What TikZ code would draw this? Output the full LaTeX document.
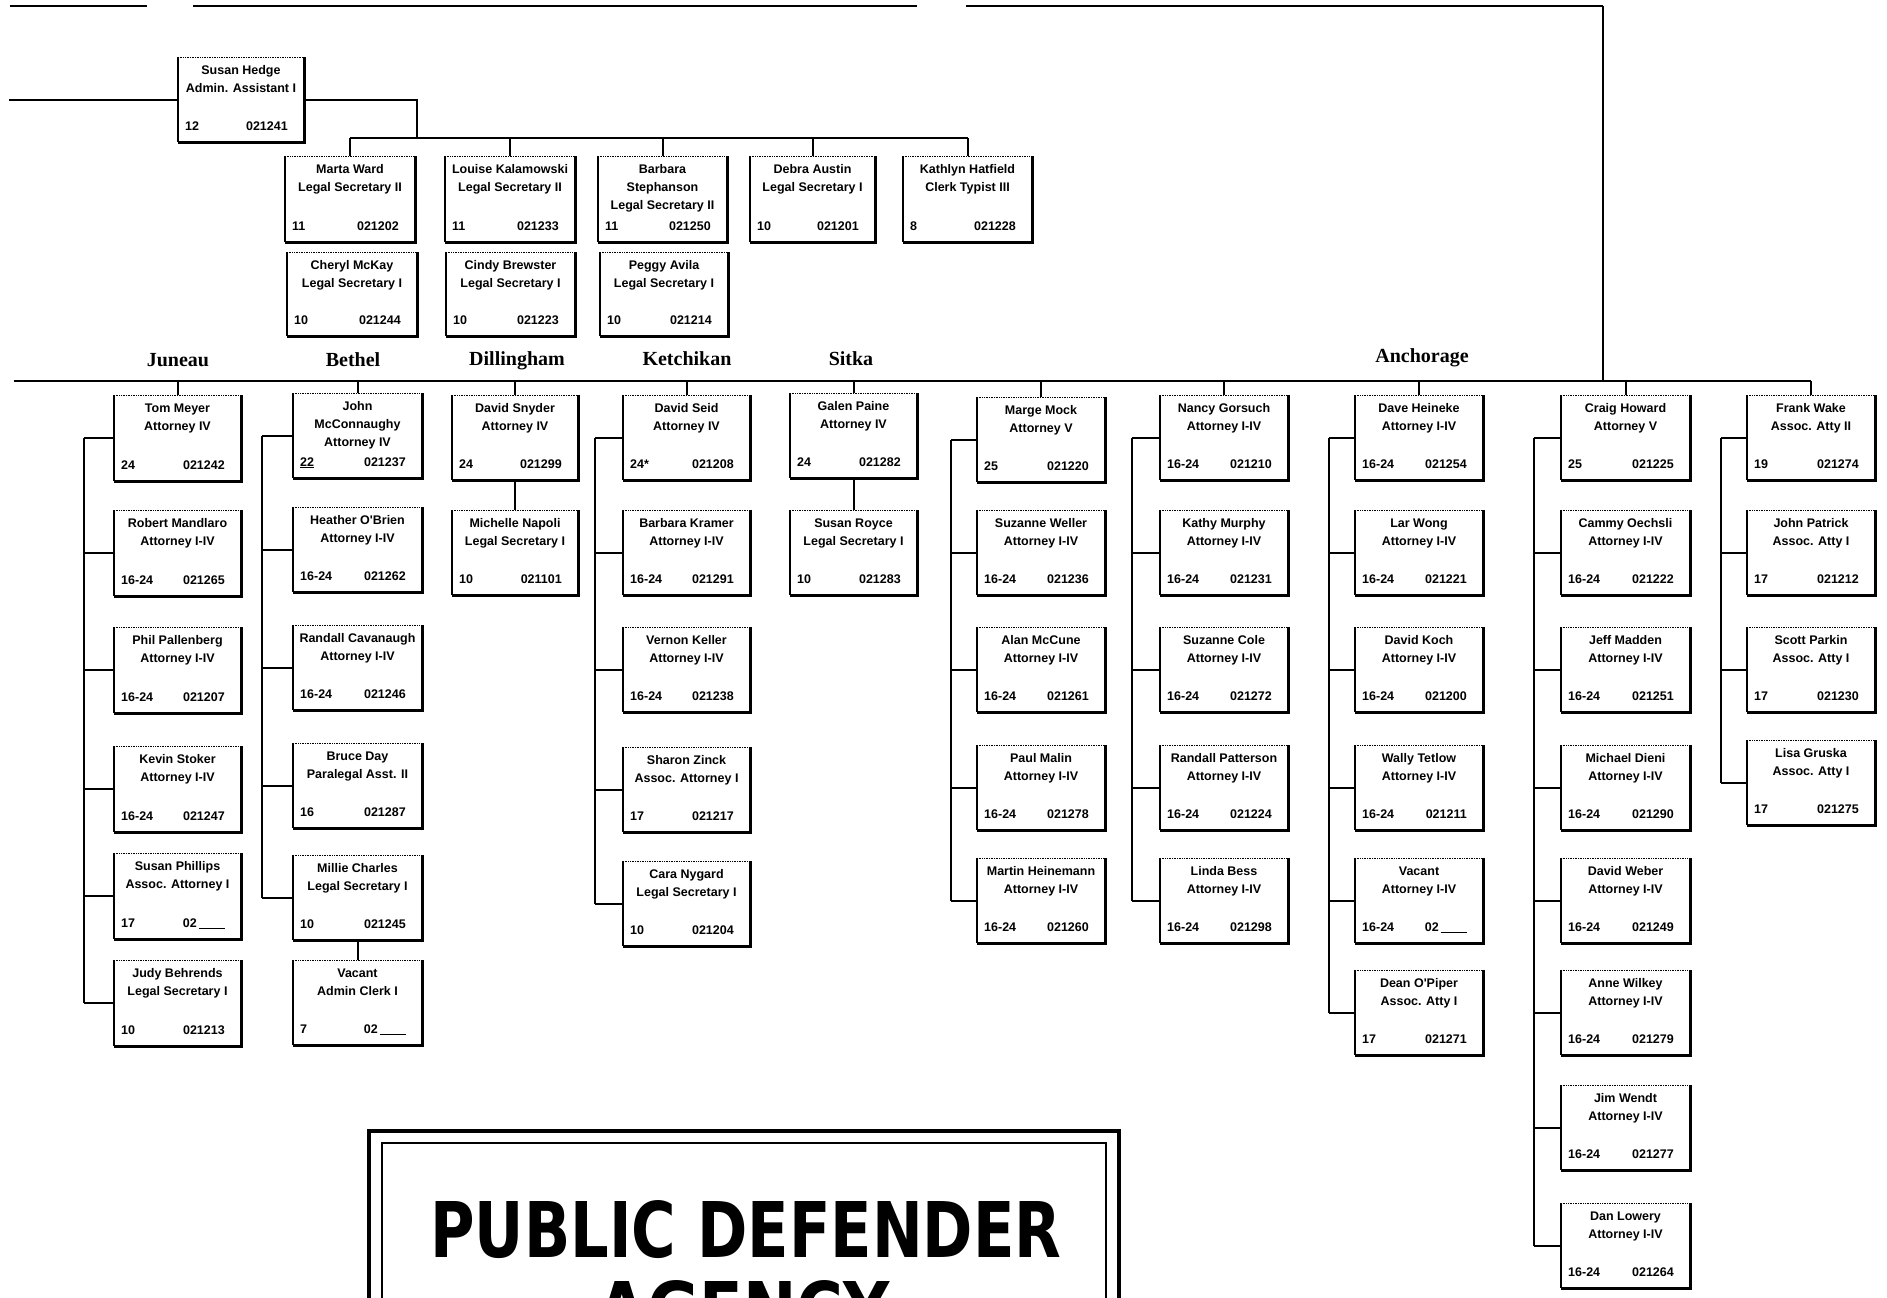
\documentclass[tikz,border=0pt]{standalone}
\usepackage{fontspec}
\usepackage{graphicx}
\newfontfamily\cellfam{Liberation Sans}
\newfontfamily\locfam{Liberation Serif}
\newfontfamily\titlefam{DejaVu Sans}
\newcommand{\cellfont}{\cellfam\bfseries\fontsize{12.5}{18}\selectfont}
\newcommand{\locfont}{\locfam\bfseries\fontsize{20}{22}\selectfont}
\newcommand{\blankcode}{02\,\rule[-1.5pt]{26pt}{0.9pt}}
\tikzset{
  cell/.style={inner sep=0pt, outer sep=0pt},
  topedge/.style={line width=0.7pt, densely dotted},
  leftedge/.style={line width=1.3pt},
  heavyedge/.style={line width=3pt, line join=miter},
  celltext/.style={font=\cellfont, align=center, inner sep=0pt},
  cellnum/.style={font=\cellfont, inner sep=0pt},
  conn/.style={line width=2pt},
  bus/.style={line width=2.6pt},
  loclabel/.style={font=\locfont, inner sep=0pt},
  frameouter/.style={line width=4pt},
  frameinner/.style={line width=2.2pt}
}
% #1 name, #2 left x, #3 top y, #4 width, #5 height, #6 lines, #7 grade, #8 code
\newcommand{\orgbox}[8]{%
  \node[cell, minimum width=#4pt, minimum height=#5pt, anchor=north west] (#1) at (#2,#3) {};
  \draw[topedge] (#1.north west) -- (#1.north east);
  \draw[leftedge] (#1.north west) -- (#1.south west);
  \draw[heavyedge] (#1.north east) -- (#1.south east) -- (#1.south west);
  \node[celltext, anchor=north] at ([yshift=-8.5pt]#1.north) {#6};
  \node[cellnum, anchor=base west] at ([xshift=7pt,yshift=12pt]#1.south west) {#7};
  \node[cellnum, anchor=base east] at ([xshift=-16pt,yshift=12pt]#1.south east) {#8};
}
\begin{document}
\begin{tikzpicture}[x=1pt,y=-1pt]
\useasboundingbox (0,0) rectangle (1887,1298);
\clip (0,0) rectangle (1887,1298);
\fill[white] (0,0) rectangle (1887,1298);

% ---------- top lines ----------
\coordinate (ta1) at (10,6);  \coordinate (ta2) at (147,6);
\coordinate (tb1) at (193,6); \coordinate (tb2) at (917,6);
\coordinate (tc1) at (966,6); \coordinate (topR) at (1603,6);
\draw[bus] (ta1) -- (ta2);
\draw[bus] (tb1) -- (tb2);
\draw[bus] (tc1) -- (topR);

% ---------- admin + secretaries ----------
\orgbox{hedge}{178}{57}{126}{85}{Susan Hedge\\Admin. Assistant I}{12}{021241}
\orgbox{s1}{285}{156}{130}{86}{Marta Ward\\Legal Secretary II}{11}{021202}
\orgbox{s2}{445}{156}{130}{86}{Louise Kalamowski\\Legal Secretary II}{11}{021233}
\orgbox{s3}{598}{156}{129}{86}{Barbara\\Stephanson\\Legal Secretary II}{11}{021250}
\orgbox{s4}{750}{156}{125}{86}{Debra Austin\\Legal Secretary I}{10}{021201}
\orgbox{s5}{903}{156}{129}{86}{Kathlyn Hatfield\\Clerk Typist III}{8}{021228}
\orgbox{s6}{287}{252}{130}{84}{Cheryl McKay\\Legal Secretary I}{10}{021244}
\orgbox{s7}{446}{252}{129}{84}{Cindy Brewster\\Legal Secretary I}{10}{021223}
\orgbox{s8}{600}{252}{128}{84}{Peggy Avila\\Legal Secretary I}{10}{021214}

\coordinate (hl) at (10,101);
\draw[conn] (hl) -- (hedge.west -| hl) -- (hedge.west);
\coordinate (sj) at (417,138);
\draw[conn] (hedge.east) -| (sj);
\draw[conn] (s1.north |- sj) -- (s5.north |- sj);
\foreach \s in {s1,s2,s3,s4,s5} { \draw[conn] (\s.north) -- (\s.north |- sj); }

% ---------- main bus ----------
\coordinate (busL) at (14,381);

% ---------- Juneau ----------
\orgbox{j1}{114}{395}{127}{86}{Tom Meyer\\Attorney IV}{24}{021242}
\orgbox{j2}{114}{510}{127}{86}{Robert Mandlaro\\Attorney I-IV}{16-24}{021265}
\orgbox{j3}{114}{627}{127}{86}{Phil Pallenberg\\Attorney I-IV}{16-24}{021207}
\orgbox{j4}{114}{746}{127}{86}{Kevin Stoker\\Attorney I-IV}{16-24}{021247}
\orgbox{j5}{114}{853}{127}{86}{Susan Phillips\\Assoc. Attorney I}{17}{\blankcode}
\orgbox{j6}{114}{960}{127}{86}{Judy Behrends\\Legal Secretary I}{10}{021213}

% ---------- Bethel ----------
\orgbox{b1}{293}{393}{129}{85}{John\\McConnaughy\\Attorney IV}{\underline{22}}{021237}
\orgbox{b2}{293}{507}{129}{85}{Heather O'Brien\\Attorney I-IV}{16-24}{021262}
\orgbox{b3}{293}{625}{129}{85}{Randall Cavanaugh\\Attorney I-IV}{16-24}{021246}
\orgbox{b4}{293}{743}{129}{85}{Bruce Day\\Paralegal Asst. II}{16}{021287}
\orgbox{b5}{293}{855}{129}{85}{Millie Charles\\Legal Secretary I}{10}{021245}
\orgbox{b6}{293}{960}{129}{85}{Vacant\\Admin Clerk I}{7}{\blankcode}

% ---------- Dillingham ----------
\orgbox{d1}{452}{395}{126}{85}{David Snyder\\Attorney IV}{24}{021299}
\orgbox{d2}{452}{510}{126}{85}{Michelle Napoli\\Legal Secretary I}{10}{021101}

% ---------- Ketchikan ----------
\orgbox{k1}{623}{395}{127}{85}{David Seid\\Attorney IV}{24*}{021208}
\orgbox{k2}{623}{510}{127}{85}{Barbara Kramer\\Attorney I-IV}{16-24}{021291}
\orgbox{k3}{623}{627}{127}{85}{Vernon Keller\\Attorney I-IV}{16-24}{021238}
\orgbox{k4}{623}{747}{127}{85}{Sharon Zinck\\Assoc. Attorney I}{17}{021217}
\orgbox{k5}{623}{861}{127}{85}{Cara Nygard\\Legal Secretary I}{10}{021204}

% ---------- Sitka ----------
\orgbox{t1}{790}{393}{127}{85}{Galen Paine\\Attorney IV}{24}{021282}
\orgbox{t2}{790}{510}{127}{85}{Susan Royce\\Legal Secretary I}{10}{021283}

% ---------- Anchorage 1 ----------
\orgbox{a1}{977}{397}{128}{85}{Marge Mock\\Attorney V}{25}{021220}
\orgbox{a2}{977}{510}{128}{85}{Suzanne Weller\\Attorney I-IV}{16-24}{021236}
\orgbox{a3}{977}{627}{128}{85}{Alan McCune\\Attorney I-IV}{16-24}{021261}
\orgbox{a4}{977}{745}{128}{85}{Paul Malin\\Attorney I-IV}{16-24}{021278}
\orgbox{a5}{977}{858}{128}{85}{Martin Heinemann\\Attorney I-IV}{16-24}{021260}

% ---------- Anchorage 2 ----------
\orgbox{n1}{1160}{395}{128}{85}{Nancy Gorsuch\\Attorney I-IV}{16-24}{021210}
\orgbox{n2}{1160}{510}{128}{85}{Kathy Murphy\\Attorney I-IV}{16-24}{021231}
\orgbox{n3}{1160}{627}{128}{85}{Suzanne Cole\\Attorney I-IV}{16-24}{021272}
\orgbox{n4}{1160}{745}{128}{85}{Randall Patterson\\Attorney I-IV}{16-24}{021224}
\orgbox{n5}{1160}{858}{128}{85}{Linda Bess\\Attorney I-IV}{16-24}{021298}

% ---------- Anchorage 3 ----------
\orgbox{h1}{1355}{395}{128}{85}{Dave Heineke\\Attorney I-IV}{16-24}{021254}
\orgbox{h2}{1355}{510}{128}{85}{Lar Wong\\Attorney I-IV}{16-24}{021221}
\orgbox{h3}{1355}{627}{128}{85}{David Koch\\Attorney I-IV}{16-24}{021200}
\orgbox{h4}{1355}{745}{128}{85}{Wally Tetlow\\Attorney I-IV}{16-24}{021211}
\orgbox{h5}{1355}{858}{128}{85}{Vacant\\Attorney I-IV}{16-24}{\blankcode}
\orgbox{h6}{1355}{970}{128}{85}{Dean O'Piper\\Assoc. Atty I}{17}{021271}

% ---------- Anchorage 4 ----------
\orgbox{c1}{1561}{395}{129}{85}{Craig Howard\\Attorney V}{25}{021225}
\orgbox{c2}{1561}{510}{129}{85}{Cammy Oechsli\\Attorney I-IV}{16-24}{021222}
\orgbox{c3}{1561}{627}{129}{85}{Jeff Madden\\Attorney I-IV}{16-24}{021251}
\orgbox{c4}{1561}{745}{129}{85}{Michael Dieni\\Attorney I-IV}{16-24}{021290}
\orgbox{c5}{1561}{858}{129}{85}{David Weber\\Attorney I-IV}{16-24}{021249}
\orgbox{c6}{1561}{970}{129}{85}{Anne Wilkey\\Attorney I-IV}{16-24}{021279}
\orgbox{c7}{1561}{1085}{129}{85}{Jim Wendt\\Attorney I-IV}{16-24}{021277}
\orgbox{c8}{1561}{1203}{129}{85}{Dan Lowery\\Attorney I-IV}{16-24}{021264}

% ---------- Anchorage 5 ----------
\orgbox{f1}{1747}{395}{128}{85}{Frank Wake\\Assoc. Atty II}{19}{021274}
\orgbox{f2}{1747}{510}{128}{85}{John Patrick\\Assoc. Atty I}{17}{021212}
\orgbox{f3}{1747}{627}{128}{85}{Scott Parkin\\Assoc. Atty I}{17}{021230}
\orgbox{f4}{1747}{740}{128}{85}{Lisa Gruska\\Assoc. Atty I}{17}{021275}

% ---------- bus and drops ----------
\draw[bus] (busL) -- (busL -| f1.north);
\draw[bus] (topR) -- (topR |- busL);
\foreach \t in {j1,b1,d1,k1,t1,a1,n1,h1,c1,f1} { \draw[conn] (\t.north) -- (\t.north |- busL); }

% location labels
\node[loclabel] (lj) at (178,360) {Juneau};
\node[loclabel] (lb) at (353,360) {Bethel};
\node[loclabel] (ld) at (517,361) {Dillingham};
\node[loclabel] (lk) at (687,359) {Ketchikan};
\node[loclabel] (ls) at (851,359) {Sitka};
\node[loclabel] (la) at (1422,358) {Anchorage};

% ---------- brackets ----------
\coordinate (xj) at (84,0);
\draw[conn] (j1.west -| xj) -- (j6.west -| xj);
\foreach \b in {j1,j2,j3,j4,j5,j6} { \draw[conn] (\b.west) -- (\b.west -| xj); }

\coordinate (xb) at (262,0);
\draw[conn] (b1.west -| xb) -- (b5.west -| xb);
\foreach \b in {b1,b2,b3,b4,b5} { \draw[conn] (\b.west) -- (\b.west -| xb); }
\draw[conn] (b5.south) -- (b6.north);

\draw[conn] (d1.south) -- (d2.north);
\draw[conn] (t1.south) -- (t2.north);

\coordinate (xk) at (595,0);
\draw[conn] (k1.west -| xk) -- (k5.west -| xk);
\foreach \b in {k1,k2,k3,k4,k5} { \draw[conn] (\b.west) -- (\b.west -| xk); }

\coordinate (xa) at (951,0);
\draw[conn] (a1.west -| xa) -- (a5.west -| xa);
\foreach \b in {a1,a2,a3,a4,a5} { \draw[conn] (\b.west) -- (\b.west -| xa); }

\coordinate (xn) at (1132,0);
\draw[conn] (n1.west -| xn) -- (n5.west -| xn);
\foreach \b in {n1,n2,n3,n4,n5} { \draw[conn] (\b.west) -- (\b.west -| xn); }

\coordinate (xh) at (1329,0);
\draw[conn] (h1.west -| xh) -- (h6.west -| xh);
\foreach \b in {h1,h2,h3,h4,h5,h6} { \draw[conn] (\b.west) -- (\b.west -| xh); }

\coordinate (xc) at (1534,0);
\draw[conn] (c1.west -| xc) -- (c8.west -| xc);
\foreach \b in {c1,c2,c3,c4,c5,c6,c7,c8} { \draw[conn] (\b.west) -- (\b.west -| xc); }

\coordinate (xf) at (1721,0);
\draw[conn] (f1.west -| xf) -- (f4.west -| xf);
\foreach \b in {f1,f2,f3,f4} { \draw[conn] (\b.west) -- (\b.west -| xf); }

% ---------- title panel ----------
\draw[frameouter] (369,1320) |- (1119,1131) -- (1119,1320);
\draw[frameinner] (382,1320) |- (1106,1143) -- (1106,1320);
\node[inner sep=0pt] (title1) at (746,1230) {\resizebox{631pt}{57pt}{\titlefam\bfseries PUBLIC DEFENDER}};
\node[inner sep=0pt, anchor=north] (title2) at (744,1280) {\resizebox{292pt}{57pt}{\titlefam\bfseries AGENCY}};
\end{tikzpicture}
\end{document}
